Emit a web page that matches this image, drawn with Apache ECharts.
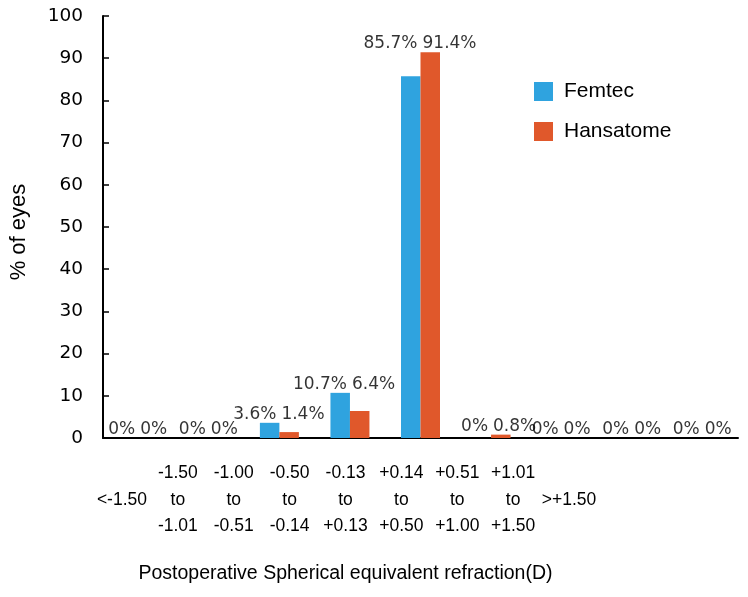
<!DOCTYPE html>
<html>
<head>
<meta charset="utf-8">
<script src="https://cdn.jsdelivr.net/npm/echarts@6/dist/echarts.min.js"></script>
<style>html,body{margin:0;padding:0;background:#fff}#c{width:748px;height:597px}</style>
</head>
<body>
<div id="c"></div>
<script>
const categories = ['<-1.50', '-1.50 to -1.01', '-1.00 to -0.51', '-0.50 to -0.14', '-0.13 to +0.13', '+0.14 to +0.50', '+0.51 to +1.00', '+1.01 to +1.50', '>+1.50'];
const femtec = [0, 0, 3.6, 10.7, 85.7, 0, 0, 0, 0];
const hansatome = [0, 0, 1.4, 6.4, 91.4, 0.8, 0, 0, 0];
const yTicks = [0, 10, 20, 30, 40, 50, 60, 70, 80, 90, 100];
const seriesNames = ['Femtec', 'Hansatome'];
const xTitle = 'Postoperative Spherical equivalent refraction(D)';
const yTitle = '% of eyes';

const BLUE = '#2fa3df';
const ORANGE = '#e0582b';
const labelLevel = femtec.map((v, i) => Math.max(v, hansatome[i]));
const fmtPct = v => v + '%';
const catLabel = v => v.indexOf(' to ') >= 0 ? v.replace(/ to /, '\nto\n') : ' \n' + v;

const chart = echarts.init(document.getElementById('c'), null, {renderer: 'canvas'});
const valueLabel = {fontFamily: 'DejaVu Sans', fontSize: 17, color: '#000'};

chart.setOption({
  animation: false,
  backgroundColor: '#fff',
  grid: [
    {left: 100, top: 16, width: 638, height: 422},
    {left: 94, top: 16, width: 503, height: 422}
  ],
  legend: {
    data: seriesNames,
    orient: 'vertical',
    left: 529, top: 76,
    itemWidth: 19, itemHeight: 19, itemGap: 19,
    icon: 'rect',
    textStyle: {fontFamily: 'Liberation Sans', fontSize: 21, color: '#000', padding: [0, 0, 0, 6]}
  },
  xAxis: [
    {
      type: 'category', gridIndex: 0, data: categories,
      axisLine: {lineStyle: {color: '#000', width: 2}},
      axisTick: {inside: true, length: 5, lineStyle: {color: '#000', width: 1.5}},
      axisLabel: {show: false}
    },
    {
      type: 'category', gridIndex: 1, data: categories,
      axisLine: {show: false}, axisTick: {show: false},
      axisLabel: {
        formatter: catLabel, margin: 22, interval: 0,
        fontFamily: 'Liberation Sans', fontSize: 17.5, lineHeight: 26.5, color: '#000'
      },
      name: xTitle, nameLocation: 'middle', nameGap: 126,
      nameTextStyle: {fontFamily: 'Liberation Sans', fontSize: 19.5, color: '#000'}
    }
  ],
  yAxis: [
    {
      type: 'value', gridIndex: 0, min: 0, max: 100, interval: 10,
      axisLine: {show: true, lineStyle: {color: '#000', width: 2}},
      axisTick: {show: true, inside: true, length: 6, lineStyle: {color: '#000', width: 1.5}},
      splitLine: {show: false},
      axisLabel: {
        margin: 20, fontFamily: 'DejaVu Sans', fontSize: 18.5, color: '#000',
        formatter: v => yTicks.indexOf(v) >= 0 ? String(v) : ''
      },
      name: yTitle, nameLocation: 'middle', nameGap: 73,
      nameTextStyle: {fontFamily: 'Liberation Sans', fontSize: 22, color: '#000', padding: [0, 10, 0, 0]}
    },
    {type: 'value', gridIndex: 1, min: 0, max: 100, show: false}
  ],
  series: [
    {
      name: seriesNames[0], type: 'bar', xAxisIndex: 0, yAxisIndex: 0,
      data: femtec, barWidth: 19.5, barGap: '0%',
      itemStyle: {color: BLUE}
    },
    {
      name: seriesNames[1], type: 'bar', xAxisIndex: 0, yAxisIndex: 0,
      data: hansatome, barWidth: 19.5, barGap: '0%',
      itemStyle: {color: ORANGE}
    },
    {
      name: 'lblF', type: 'scatter', xAxisIndex: 0, yAxisIndex: 0,
      symbolSize: 0, silent: true,
      data: labelLevel.map((v, i) => [i, v]),
      label: Object.assign({
        show: true, position: 'top', align: 'right', distance: 0, offset: [-3, 0],
        formatter: p => fmtPct(femtec[p.dataIndex])
      }, valueLabel)
    },
    {
      name: 'lblH', type: 'scatter', xAxisIndex: 0, yAxisIndex: 0,
      symbolSize: 0, silent: true,
      data: labelLevel.map((v, i) => [i, v]),
      label: Object.assign({
        show: true, position: 'top', align: 'left', distance: 0, offset: [2, 0],
        formatter: p => fmtPct(hansatome[p.dataIndex])
      }, valueLabel)
    }
  ]
});
</script>
</body>
</html>
